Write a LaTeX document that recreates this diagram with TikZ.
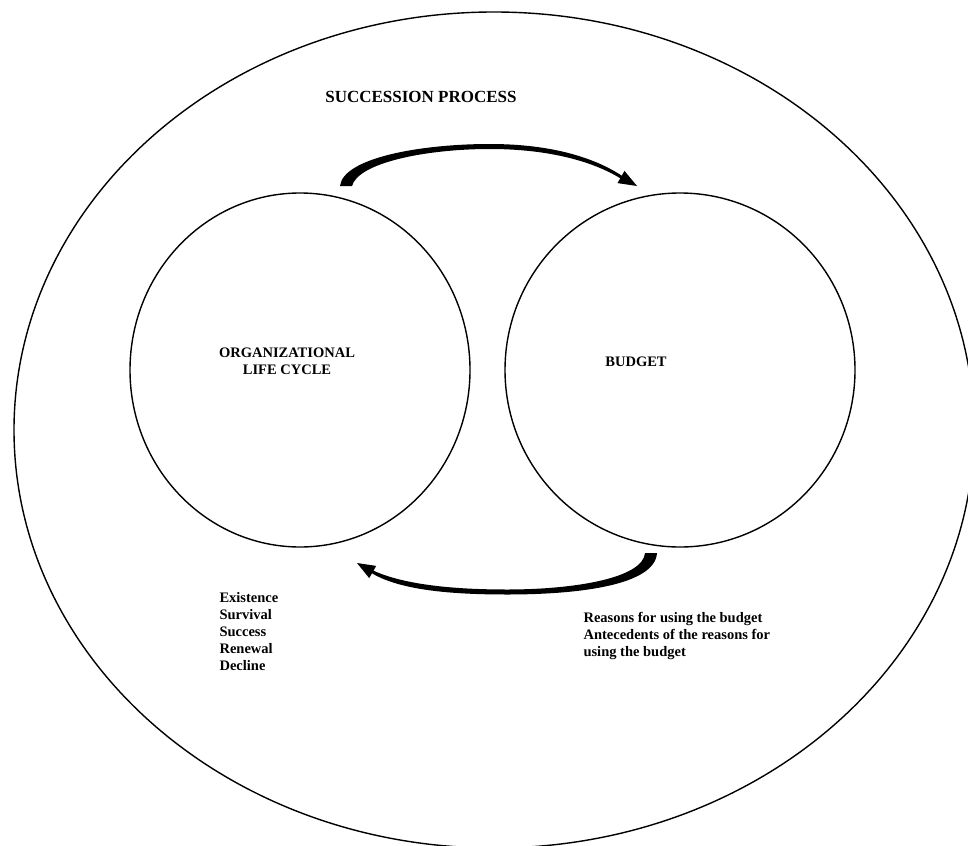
\documentclass[tikz,border=0pt]{standalone}
\usepackage{fontspec}
\setmainfont{Liberation Serif}
\usepackage{tikz}
\usetikzlibrary{shapes.geometric}

\begin{document}
\begin{tikzpicture}[x=1pt,y=-1pt,
  ring/.style={draw,ellipse,line width=1.4pt,inner sep=0pt},
  lbl/.style={font=\bfseries\fontsize{14.5}{17}\selectfont,align=left}]

\useasboundingbox (0,0) rectangle (968,845);

  \node[ring,minimum width=960pt,minimum height=836pt] (process) at (494,430) {};
\node[ring,minimum width=340pt,minimum height=354pt] (cycle) at (300,370) {};
\node[ring,minimum width=350pt,minimum height=354pt] (budget) at (680,370) {};

\node[lbl,font=\bfseries\fontsize{17}{20}\selectfont] (title) at (421,97) {SUCCESSION PROCESS};
\node[lbl,align=center] (cyclename) at (287,361) {ORGANIZATIONAL\\LIFE CYCLE};
\node[lbl] (budgetname) at (636,362) {BUDGET};

\node[lbl,anchor=north west] (stages) at (216,589) {Existence\\Survival\\Success\\Renewal\\Decline};
\node[lbl,anchor=north west] (reasons) at (580,609) {Reasons for using the budget\\Antecedents of the reasons for\\using the budget};

% tapered arrows between the two circles
\fill (637,186) -- (624.5,170.9) -- (621.75,175.7)
  .. controls (595,158) and (552,144) .. (490,144)
  .. controls (420,144) and (343,158) .. (340,186)
  -- (352,186)
  .. controls (358,163) and (425,149) .. (490,149)
  .. controls (550,149) and (594,162) .. (620.25,178.3)
  -- (617.5,183.1) -- cycle;

\fill (357,563) -- (376.2,565.9) -- (373.5,570.7)
  .. controls (405,585) and (455,589.5) .. (507,589.5)
  .. controls (575,589.5) and (643,578) .. (645,553)
  -- (657,553)
  .. controls (655,585) and (580,594.5) .. (507,594.5)
  .. controls (450,594.5) and (400,590) .. (372,573.3)
  -- (369.2,578.1) -- cycle;

\end{tikzpicture}
\end{document}
